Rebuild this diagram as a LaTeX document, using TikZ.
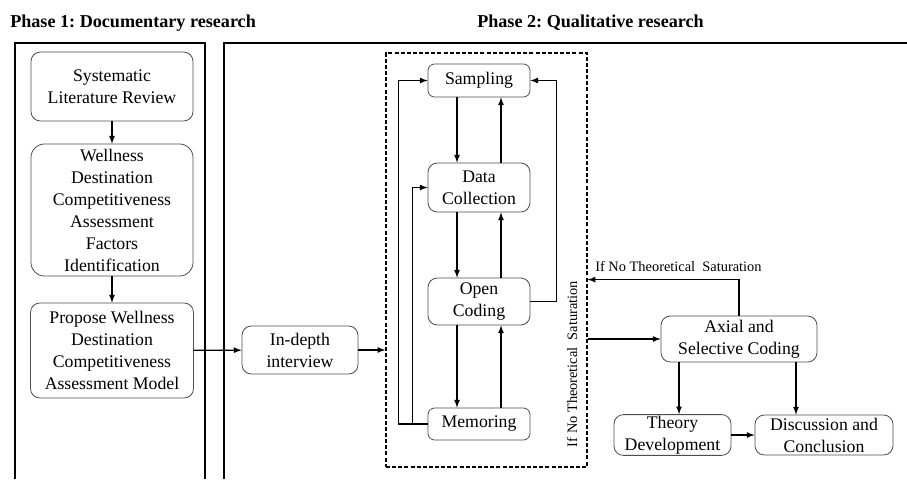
\documentclass[tikz,border=0pt]{standalone}
\usepackage{fontspec}
\setmainfont{Liberation Serif}
\usepackage{tikz}
\usetikzlibrary{calc,arrows}
\frenchspacing
\tikzset{
  stage/.style={draw=black!70,line width=0.6pt,rounded corners=7pt,align=center,inner sep=1pt,
    font=\fontsize{13.3}{16.5}\selectfont},
  sz/.style 2 args={minimum width=#1*0.75pt,minimum height=#2*0.75pt},
  flow/.style={-latex,line width=1pt},
  frame/.style={line width=1.2pt},
  note/.style={font=\fontsize{10.8}{12}\selectfont,inner sep=0pt}
}
\begin{document}
\begin{tikzpicture}[x=0.75pt,y=-0.75pt]
                      \useasboundingbox (0,0) rectangle (907,479);
                      \node[anchor=base west,inner sep=0pt,font=\fontsize{13.6}{16}\selectfont\bfseries] (ph1) at (10,27) {Phase 1: Documentary research};
                      \node[anchor=base west,inner sep=0pt,font=\fontsize{13.6}{16}\selectfont\bfseries] (ph2) at (477,27) {Phase 2: Qualitative research};
                      \draw[frame] (15,479) -- (15,43) -- (205,43) -- (205,479);
                      \draw[frame] (224,479) -- (224,43) -- (907,43);
                      \node[stage,sz={162}{69}](slr)at(112,86.5){Systematic\\Literature Review};
                      \node[stage,sz={162}{132},rounded corners=10pt](wdc)at(112,210){Wellness\\Destination\\Competitiveness\\Assessment\\Factors\\Identification};
                      \node[stage,sz={163}{95}](pwd)at(112,350.5){Propose Wellness\\Destination\\Competitiveness\\Assessment Model};
                      \node[stage,sz={116}{48}](idi)at(300,350){In-depth\\interview};
                      \node[draw,dash pattern=on 3pt off 1.6pt,line width=1pt,sz={201}{414}](qual)at(486.5,260){};
                      \node[stage,sz={102}{33},rounded corners=5pt](samp)at(479,80.5){Sampling};
                      \node[stage,sz={102}{49}](dc)at(479,187.5){Data\\Collection};
                      \node[stage,sz={102}{47}](oc)at(479,301.5){Open\\Coding};
                      \node[stage,sz={102}{32},rounded corners=5pt](mem)at(479,424){Memoring};
                      \node[stage,sz={156}{46}](asc)at(739,339){Axial and\\Selective Coding};
                      \node[stage,sz={117}{40}](td)at(672.5,435){Theory\\Development};
                      \node[stage,sz={138}{40}](dcon)at(824,435){Discussion and\\Conclusion};
                      \node[note,rotate=90](sat1)at(572,364){If No Theoretical\ \ Saturation};
                      \node[note,anchor=base west](sat2)at(595,271){If No Theoretical\ \ Saturation};
                      \draw[flow](slr)--(wdc);
                      \draw[flow](wdc)--(pwd);
                      \draw[flow](pwd)--(idi);
                      \draw[flow](idi.east)--(idi.east-|qual.west);
                      \foreach \a/\b in {samp/dc,dc/oc,oc/mem}{
                        \draw[flow]($(\a.south)+(-22,0)$)--($(\b.north)+(-22,0)$);
                        \draw[flow]($(\b.north)+(22,0)$)--($(\a.south)+(22,0)$);
                      }
                      \draw[flow](oc.east)--++(26,0)|-(samp.east);
                      \draw[flow](mem.west)--++(-29,0)|-(samp.west);
                      \draw[flow]($(mem.west)+(-15,0)$)|-(dc.west);
                      \draw[flow](asc.west-|qual.east)--(asc.west);
                      \draw[flow](asc.north)--++(0,-36)coordinate(turn)--(turn-|qual.east);
                      \draw[flow]($(asc.south)+(-60,0)$)coordinate(p)--(p|-td.north);
                      \draw[flow]($(asc.south)+(57,0)$)coordinate(q)--(q|-dcon.north);
                      \draw[flow](td)--(dcon);
                  \end{tikzpicture}
\end{document}
